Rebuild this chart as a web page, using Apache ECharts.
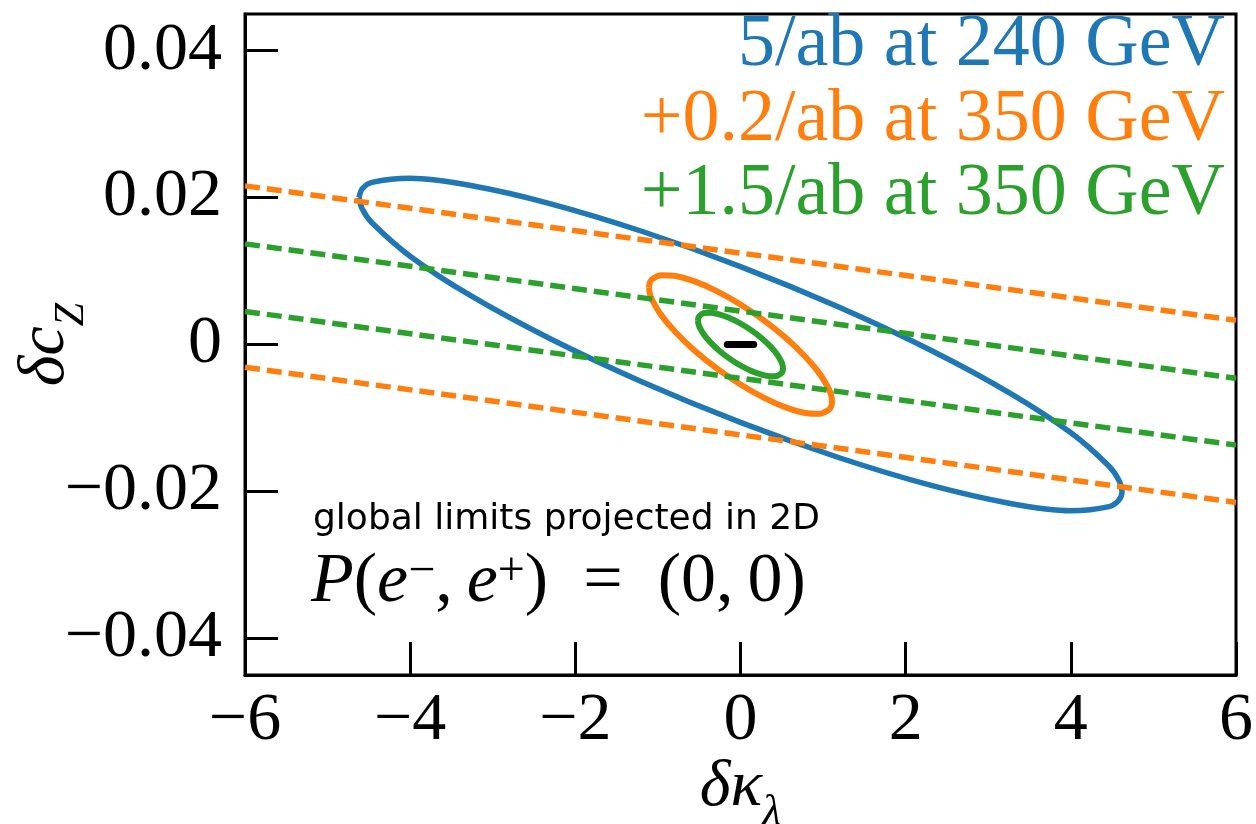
<!DOCTYPE html>
<html>
<head>
<meta charset="utf-8">
<script src="https://cdn.jsdelivr.net/npm/echarts@6/dist/echarts.min.js"></script>
<style>
  html, body { margin: 0; padding: 0; background: #ffffff; }
  #chart { width: 1256px; height: 824px; }
</style>
</head>
<body>
<div id="chart"></div>
<script>
// Axis ticks and their printed labels
const xTicks = [-6, -4, -2, 0, 2, 4, 6];
const xTickLabels = ['−6', '−4', '−2', '0', '2', '4', '6'];
const yTicks = [-0.04, -0.02, 0, 0.02, 0.04];
const yTickLabels = ['−0.04', '−0.02', '0', '0.02', '0.04'];

// Run scenarios and their colours
const scenarioNames = ['5/ab at 240 GeV', '+0.2/ab at 350 GeV', '+1.5/ab at 350 GeV'];
const scenarioColors = ['#1f77b4', '#ff7f0e', '#2ca02c'];

// Global-fit contours (δκλ, δcZ), traced around each closed curve
const contour240 = [
  [-4.620, 0.02000], [-4.580, 0.01844], [-4.463, 0.01657], [-4.001, 0.01202], [-3.267, 0.00664],
  [-2.310, 0.00081], [-1.196, -0.00507], [0.000, -0.01061], [1.196, -0.01542], [2.310, -0.01919],
  [3.267, -0.02164], [4.001, -0.02263], [4.463, -0.02207], [4.580, -0.02121], [4.620, -0.02000],
  [4.580, -0.01844], [4.463, -0.01657], [4.001, -0.01202], [3.267, -0.00664], [2.310, -0.00081],
  [1.196, 0.00507], [0.000, 0.01061], [-1.196, 0.01542], [-2.310, 0.01919], [-3.267, 0.02164],
  [-4.001, 0.02263], [-4.463, 0.02207], [-4.580, 0.02121], [-4.620, 0.02000]
];
const contour350low = [
  [-1.108, 0.00776], [-1.099, 0.00698], [-1.070, 0.00608], [-0.960, 0.00400], [-0.783, 0.00164],
  [-0.554, -0.00084], [-0.287, -0.00325], [0.000, -0.00544], [0.287, -0.00726], [0.554, -0.00859],
  [0.783, -0.00933], [0.960, -0.00944], [1.070, -0.00890], [1.099, -0.00840], [1.108, -0.00776],
  [1.099, -0.00698], [1.070, -0.00608], [0.960, -0.00400], [0.783, -0.00164], [0.554, 0.00084],
  [0.287, 0.00325], [0.000, 0.00544], [-0.287, 0.00726], [-0.554, 0.00859], [-0.783, 0.00933],
  [-0.960, 0.00944], [-1.070, 0.00890], [-1.099, 0.00840], [-1.108, 0.00776]
];
const contour350high = [
  [-0.515, 0.00327], [-0.510, 0.00286], [-0.497, 0.00241], [-0.446, 0.00140], [-0.364, 0.00029],
  [-0.257, -0.00084], [-0.133, -0.00192], [0.000, -0.00286], [0.133, -0.00361], [0.257, -0.00411],
  [0.364, -0.00433], [0.446, -0.00426], [0.497, -0.00389], [0.510, -0.00361], [0.515, -0.00327],
  [0.510, -0.00286], [0.497, -0.00241], [0.446, -0.00140], [0.364, -0.00029], [0.257, 0.00084],
  [0.133, 0.00192], [0.000, 0.00286], [-0.133, 0.00361], [-0.257, 0.00411], [-0.364, 0.00433],
  [-0.446, 0.00426], [-0.497, 0.00389], [-0.510, 0.00361], [-0.515, 0.00327]
];
const contourCombined = [[-0.16, 0], [0.16, 0]];

// Single-parameter bands (dashed)
const band350lowUpper = [[-6, 0.0216], [6, 0.0033]];
const band350lowLower = [[-6, -0.0031], [6, -0.0215]];
const band350highUpper = [[-6, 0.0137], [6, -0.0046]];
const band350highLower = [[-6, 0.0045], [6, -0.0137]];

const serif = '"Liberation Serif", "DejaVu Serif", serif';

function nearestLabel(ticks, labels, v) {
  let best = 0;
  for (let i = 1; i < ticks.length; i++) {
    if (Math.abs(ticks[i] - v) < Math.abs(ticks[best] - v)) best = i;
  }
  return labels[best];
}

function contourSeries(name, data, color, width) {
  return {
    name: name, type: 'line', data: data, smooth: 0.3,
    showSymbol: false, symbol: 'none', silent: true, z: 2,
    lineStyle: { color: color, width: width, join: 'round' }
  };
}
function bandSeries(name, data, color) {
  return {
    name: name, type: 'line', data: data, showSymbol: false, symbol: 'none', silent: true, z: 3,
    lineStyle: { color: color, width: 5.5, type: [15, 7] }
  };
}

const chart = echarts.init(document.getElementById('chart'), null, { renderer: 'canvas' });

const legendY = [46, 121, 195];

chart.setOption({
  animation: false,
  backgroundColor: '#ffffff',
  grid: {
    left: 245, right: 20, top: 14, bottom: 149,
    containLabel: false, outerBoundsMode: 'none',
    show: true, borderColor: '#000', borderWidth: 3
  },
  xAxis: {
    type: 'value', min: -6, max: 6, interval: 2,
    name: '{m|δκ}{s|λ}', nameLocation: 'middle', nameGap: 80, nameMoveOverlap: false,
    nameTextStyle: {
      rich: {
        m: { fontFamily: serif, fontStyle: 'italic', fontSize: 66, lineHeight: 66, verticalAlign: 'top', color: '#000' },
        s: { fontFamily: serif, fontStyle: 'italic', fontSize: 44, lineHeight: 80, verticalAlign: 'bottom', color: '#000' }
      }
    },
    axisLine: { show: true, onZero: false, lineStyle: { color: '#000', width: 3 } },
    axisTick: { show: true, inside: true, length: 33, lineStyle: { color: '#000', width: 3 } },
    axisLabel: {
      margin: 12, color: '#000', fontFamily: serif, fontSize: 68,
      formatter: v => nearestLabel(xTicks, xTickLabels, v)
    },
    splitLine: { show: false }
  },
  yAxis: {
    type: 'value', min: -0.045, max: 0.045,
    name: '{m|δc}{s|Z}', nameLocation: 'middle', nameGap: 152, nameMoveOverlap: false,
    nameTextStyle: {
      rich: {
        m: { fontFamily: serif, fontStyle: 'italic', fontSize: 66, lineHeight: 66, verticalAlign: 'top', color: '#000' },
        s: { fontFamily: serif, fontStyle: 'italic', fontSize: 42, lineHeight: 80, verticalAlign: 'bottom', color: '#000' }
      }
    },
    axisLine: { show: true, onZero: false, lineStyle: { color: '#000', width: 3 } },
    axisTick: { show: true, inside: true, length: 33, customValues: yTicks, lineStyle: { color: '#000', width: 3 } },
    axisLabel: {
      margin: 23, color: '#000', fontFamily: serif, fontSize: 68, customValues: yTicks,
      formatter: v => nearestLabel(yTicks, yTickLabels, v)
    },
    splitLine: { show: false }
  },
  series: [
    contourSeries(scenarioNames[0], contour240, scenarioColors[0], 5.5),
    contourSeries(scenarioNames[1], contour350low, scenarioColors[1], 6),
    contourSeries(scenarioNames[2], contour350high, scenarioColors[2], 6),
    bandSeries(scenarioNames[1] + ' upper', band350lowUpper, scenarioColors[1]),
    bandSeries(scenarioNames[1] + ' lower', band350lowLower, scenarioColors[1]),
    bandSeries(scenarioNames[2] + ' upper', band350highUpper, scenarioColors[2]),
    bandSeries(scenarioNames[2] + ' lower', band350highLower, scenarioColors[2]),
    {
      name: 'combined', type: 'line', data: contourCombined, showSymbol: false, symbol: 'none',
      silent: true, z: 4, lineStyle: { color: '#000', width: 7, cap: 'round' }
    }
  ],
  graphic: scenarioNames.map((t, i) => ({
    type: 'text', x: 1225, y: legendY[i], z: 10, silent: true,
    style: { text: t, fill: scenarioColors[i], font: '74px ' + serif, align: 'right', verticalAlign: 'middle' }
  })).concat([
    {
      type: 'text', x: 313, y: 520, z: 10, silent: true,
      style: {
        text: 'global limits projected in 2D', fill: '#000',
        font: '36px "DejaVu Sans", sans-serif', align: 'left', verticalAlign: 'middle'
      }
    },
    {
      type: 'text', x: 311, y: 548, z: 10, silent: true,
      style: {
        text: '{i|P}{r|(}{i|e}{p|−}{r|,\u2009}{i|e}{p|+}{r|)\u2002=\u2002(0,\u20090)}',
        align: 'left', verticalAlign: 'top',
        rich: {
          i: { fontFamily: serif, fontStyle: 'italic', fontSize: 70, lineHeight: 70, verticalAlign: 'bottom', fill: '#000' },
          r: { fontFamily: serif, fontSize: 70, lineHeight: 70, verticalAlign: 'bottom', fill: '#000' },
          p: { fontFamily: serif, fontSize: 48, lineHeight: 44, verticalAlign: 'top', fill: '#000' }
        }
      }
    }
  ])
});
</script>
</body>
</html>
